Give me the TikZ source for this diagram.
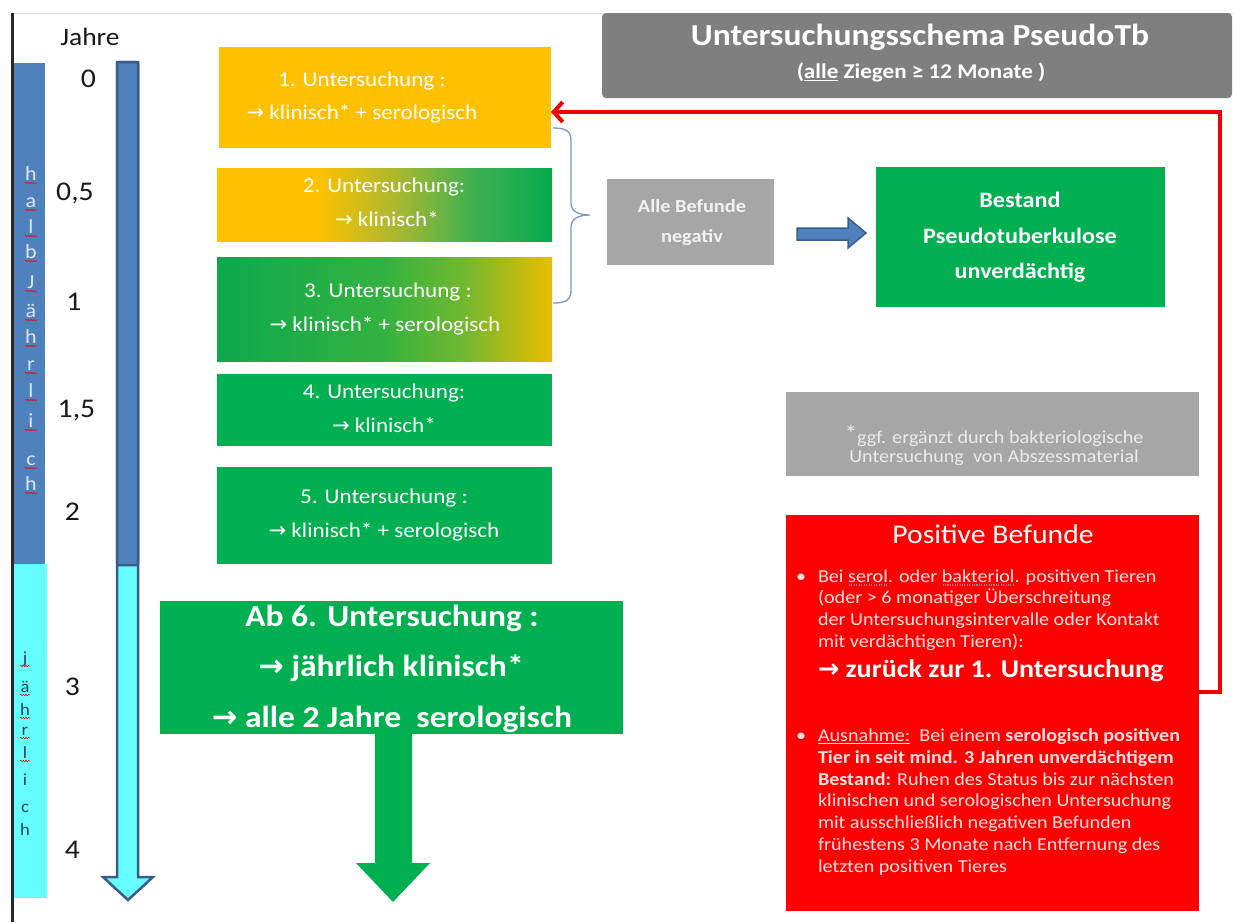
\documentclass[tikz,border=0pt]{standalone}
\usepackage{fontspec}
\setmainfont{Carlito}[FakeStretch=1.1]
\newfontfamily\dvsans{DejaVu Sans}
\usetikzlibrary{decorations.pathmorphing,arrows.meta}
\newcommand\fsz[1]{\fontsize{#1}{#1}\selectfont}
\newcommand\arr{{\dvsans\mdseries →}}
\newcommand\barr{{\dvsans\bfseries →}}
\newcommand\myul[1]{\setbox0\hbox{#1}\rlap{\raisebox{-3pt}{\rule{\wd0}{1pt}}}\box0\relax}
\newcommand\mydotul[1]{\setbox0\hbox{#1}\rlap{\raisebox{-3.5pt}{\color{black!45}\hbox to\wd0{\xleaders\hbox to 2.4pt{\hss\rule{1.1pt}{1.1pt}\hss}\hfill}}}\box0\relax}

\definecolor{orng}{RGB}{255,192,0}
\definecolor{grn}{RGB}{0,176,80}
\definecolor{tlblue}{RGB}{79,129,189}
\definecolor{tlborder}{RGB}{56,93,138}
\definecolor{cyanbar}{RGB}{102,255,255}
\definecolor{titlegray}{RGB}{127,127,127}
\definecolor{boxgray}{RGB}{166,166,166}
\definecolor{redbox}{RGB}{255,0,0}
\definecolor{arrred}{RGB}{240,0,0}
\definecolor{pinktext}{RGB}{255,226,226}
\definecolor{bracecol}{RGB}{125,150,195}
\definecolor{lettlight}{RGB}{220,230,242}
\definecolor{lettdark}{RGB}{40,65,85}
\definecolor{frame}{RGB}{40,40,40}

\pgfdeclarehorizontalshading{otog}{100bp}{rgb(0bp)=(1,0.753,0); rgb(25bp)=(1,0.753,0); rgb(40bp)=(1,0.753,0); rgb(52bp)=(0.66,0.72,0.19); rgb(63bp)=(0.25,0.69,0.31); rgb(75bp)=(0.02,0.67,0.31); rgb(100bp)=(0.02,0.67,0.31)}
\pgfdeclarehorizontalshading{gtoo}{100bp}{rgb(0bp)=(0.05,0.66,0.30); rgb(25bp)=(0.05,0.66,0.30); rgb(50bp)=(0.2,0.70,0.25); rgb(62bp)=(0.45,0.72,0.18); rgb(75bp)=(0.92,0.74,0); rgb(100bp)=(0.92,0.74,0)}

\tikzset{
  rbox/.style={rectangle, inner sep=0pt, outer sep=0pt, draw=none},
  wt/.style={inner sep=0pt, outer sep=0pt, anchor=base, text=white},
  bt/.style={inner sep=0pt, outer sep=0pt, anchor=base, text=black!90},
  pt/.style={inner sep=0pt, outer sep=0pt, anchor=base west, text=pinktext, font=\fsz{18.3}},
  vl/.style={inner sep=0pt, outer sep=0pt, anchor=base},
  squig/.style={draw=red, line width=0.6pt, decorate, decoration={snake, amplitude=0.7pt, segment length=2.6pt}},
  redarrow/.style={draw=arrred, line width=4pt, -{Straight Barb[length=9pt,width=20pt]}},
  fatarrow/.style={fill=tlblue, draw=tlborder, line width=1.5pt, line join=miter},
  greenarrow/.style={fill=grn, draw=none}
}

\begin{document}
\begin{tikzpicture}[x=1pt,y=-1pt]
\useasboundingbox (0,0) rectangle (1233,922);
\fill[white] (0,0) rectangle (1233,922);

% frame
\draw[black!15, line width=1pt] (12,13) -- (1233,13);
\draw[frame, line width=3pt] (12,13) -- (12,922);

% left bars
\node[rbox, fill=tlblue, minimum width=31pt, minimum height=501pt] (halb) at (29.5,313.5) {};
\node[rbox, fill=cyanbar, minimum width=33pt, minimum height=334pt] (jaehr) at (30.5,731) {};

\foreach \l/\y [count=\i] in {h/180,a/207,l/233,b/258,J/288,ä/317,h/343,r/370,l/397,i/427,c/465,h/490}{
  \node[vl, text=lettlight, font=\fsz{20}] (hl\i) at (31,\y) {\l};
  \draw[squig] (25,\y+3) -- (37,\y+3);
}
\foreach \l/\y [count=\i] in {j/663,ä/692,h/715,r/735,l/758}{
  \node[vl, text=lettdark, font=\fsz{17}] (jl\i) at (25,\y) {\l};
  \draw[squig] (20,\y+3) -- (30,\y+3);
}
\foreach \l/\y [count=\i] in {i/785,c/812,h/835}{
  \node[vl, text=lettdark, font=\fsz{17}] (jm\i) at (25,\y) {\l};
}

% years
\node[bt, font=\fsz{25}] (jahre) at (90,45) {Jahre};
\node[bt, font=\fsz{27}] (y0) at (88.5,87) {0};
\node[bt, font=\fsz{27}] (y05) at (75,200) {0,5};
\node[bt, font=\fsz{27}] (y1) at (74,310) {1};
\node[bt, font=\fsz{27}] (y15) at (76.5,417) {1,5};
\node[bt, font=\fsz{27}] (y2) at (72.5,520) {2};
\node[bt, font=\fsz{27}] (y3) at (72.5,695) {3};
\node[bt, font=\fsz{27}] (y4) at (72.5,858) {4};

% timeline arrow
\coordinate (ta) at (117,62);
\coordinate (tb) at (138,62);
\draw[fill=cyanbar, draw=tlborder, line width=2.5pt, line join=miter]
  (ta) -- (tb) -- (138,877) -- (153,877) -- (128,900) -- (103,877) -- (117,877) -- cycle;
\draw[fill=tlblue, draw=tlborder, line width=2.5pt, rounded corners=2pt] (117,62) rectangle (138,565);

% title
\node[rbox, fill=titlegray, rounded corners=4pt, minimum width=630pt, minimum height=85pt] (title) at (917,55.5) {};
\node[wt, font=\fsz{30.5}\bfseries] (titletxt) at (920,45) {Untersuchungsschema PseudoTb};
\node[wt, font=\fsz{21}\bfseries] (subtxt) at (921,78) {(\myul{alle} Ziegen ≥ 12 Monate )};

% exam boxes
\node[rbox, fill=orng, minimum width=332pt, minimum height=101pt] (b1) at (385,97.5) {};
\node[rbox, shade, shading=otog, minimum width=335pt, minimum height=73pt] (b2) at (384.5,204.5) {};
\node[rbox, shade, shading=gtoo, minimum width=335pt, minimum height=104pt] (b3) at (384.5,309) {};
\node[rbox, fill=grn, minimum width=335pt, minimum height=72pt] (b4) at (384.5,410) {};
\node[rbox, fill=grn, minimum width=335pt, minimum height=97pt] (b5) at (384.5,515.5) {};
\node[rbox, fill=grn, minimum width=463pt, minimum height=133pt] (b6) at (391.5,667.5) {};

\node[wt, font=\fsz{21}] (t1a) at (362,86) {1. Untersuchung :};
\node[wt, font=\fsz{21}] (t1b) at (362,119) {\arr\ klinisch* + serologisch};
\node[wt, font=\fsz{21}] (t2a) at (384,192.5) {2. Untersuchung:};
\node[wt, font=\fsz{21}] (t2b) at (387,226.5) {\arr\ klinisch*};
\node[wt, font=\fsz{21}] (t3a) at (388,297.5) {3. Untersuchung :};
\node[wt, font=\fsz{21}] (t3b) at (385,331.5) {\arr\ klinisch* + serologisch};
\node[wt, font=\fsz{21}] (t4a) at (384,398) {4. Untersuchung:};
\node[wt, font=\fsz{21}] (t4b) at (384,432) {\arr\ klinisch*};
\node[wt, font=\fsz{21}] (t5a) at (384,503.5) {5. Untersuchung :};
\node[wt, font=\fsz{21}] (t5b) at (384,537.5) {\arr\ klinisch* + serologisch};
\node[wt, font=\fsz{30.5}\bfseries] (t6a) at (392,626) {Ab 6. Untersuchung :};
\node[wt, font=\fsz{30.5}\bfseries] (t6b) at (391,676) {\barr\ jährlich klinisch*};
\node[wt, font=\fsz{30.5}\bfseries] (t6c) at (392,727) {\barr\ alle 2 Jahre\ \ serologisch};

% green down arrow
\coordinate (ga) at (375,734);
\coordinate (gtip) at (393,902);
\fill[greenarrow] (ga) -- (412,734) -- (412,863) -- (430,863) -- (gtip) -- (356,863) -- (375,863) -- cycle;

% brace
\draw[bracecol, line width=1.3pt] (553,128) .. controls (566,128) and (571,131) .. (571,141) -- (571,203)
  .. controls (571,211) and (578,215) .. (590,215)
  .. controls (578,215) and (571,219) .. (571,227) -- (571,290)
  .. controls (571,300) and (566,303) .. (553,303);

% negative / Bestand
\node[rbox, fill=boxgray, minimum width=167pt, minimum height=86pt] (neg) at (690.5,222) {};
\node[wt, text=white!95!black, font=\fsz{18.5}\bfseries] (negA) at (692,212) {Alle Befunde};
\node[wt, text=white!95!black, font=\fsz{18.5}\bfseries] (negB) at (692,242) {negativ};
\node[rbox, fill=grn, minimum width=289pt, minimum height=140pt] (best) at (1020.5,237) {};
\node[wt, font=\fsz{22}\bfseries] (bestA) at (1020,207) {Bestand};
\node[wt, font=\fsz{22}\bfseries] (bestB) at (1020,243) {Pseudotuberkulose};
\node[wt, font=\fsz{22}\bfseries] (bestC) at (1020,278) {unverdächtig};

\coordinate (fa) at (797,228);
\coordinate (fb) at (866,233);
\draw[fatarrow] (fa) -- (848,228) -- (848,218) -- (fb) -- (848,248) -- (848,240) -- (797,240) -- cycle;

% note
\node[rbox, fill=boxgray, minimum width=413pt, minimum height=84pt] (note) at (992.5,434) {};
\node[wt, text=white!92!black, font=\fsz{18.3}] (noteA) at (994,443) {\raisebox{2pt}{\fsz{23}*}ggf. ergänzt durch bakteriologische};
\node[wt, text=white!92!black, font=\fsz{18.3}] (noteB) at (994,462) {Untersuchung\ \ von Abszessmaterial};

% positive box
\node[rbox, fill=redbox, minimum width=413pt, minimum height=396pt] (pos) at (992.5,713) {};
\node[wt, font=\fsz{27}] (posT) at (993,543) {Positive Befunde};
\node[pt] (bul1) at (796,582) {•};
\node[pt] (p1) at (818,582) {Bei \mydotul{serol}. oder \mydotul{bakteriol}. positiven Tieren};
\node[pt] (p2) at (818,603.5) {(oder > 6 monatiger Überschreitung};
\node[pt] (p3) at (818,625) {der Untersuchungsintervalle oder Kontakt};
\node[pt] (p4) at (818,647) {mit verdächtigen Tieren):};
\node[pt, text=white, font=\fsz{25.5}\bfseries] (p5) at (818,677) {\barr\ zurück zur 1. Untersuchung};
\node[pt] (bul2) at (796,741) {•};
\node[pt] (q1) at (818,741) {\myul{Ausnahme:}\ \ Bei einem \textbf{serologisch positiven}};
\node[pt] (q2) at (818,763) {\textbf{Tier in seit mind. 3 Jahren unverdächtigem}};
\node[pt] (q3) at (818,785) {\textbf{Bestand:} Ruhen des Status bis zur nächsten};
\node[pt] (q4) at (818,806.5) {klinischen und serologischen Untersuchung};
\node[pt] (q5) at (818,828) {mit ausschließlich negativen Befunden};
\node[pt] (q6) at (818,850) {frühestens 3 Monate nach Entfernung des};
\node[pt] (q7) at (818,872) {letzten positiven Tieres};

% red return arrow
\coordinate (rA) at (1220,692);
\coordinate (rB) at (1220,112);
\draw[redarrow] (pos.east |- rA) -- (rA) -- (rB) -- (b1.east |- rB);
\end{tikzpicture}
\end{document}
